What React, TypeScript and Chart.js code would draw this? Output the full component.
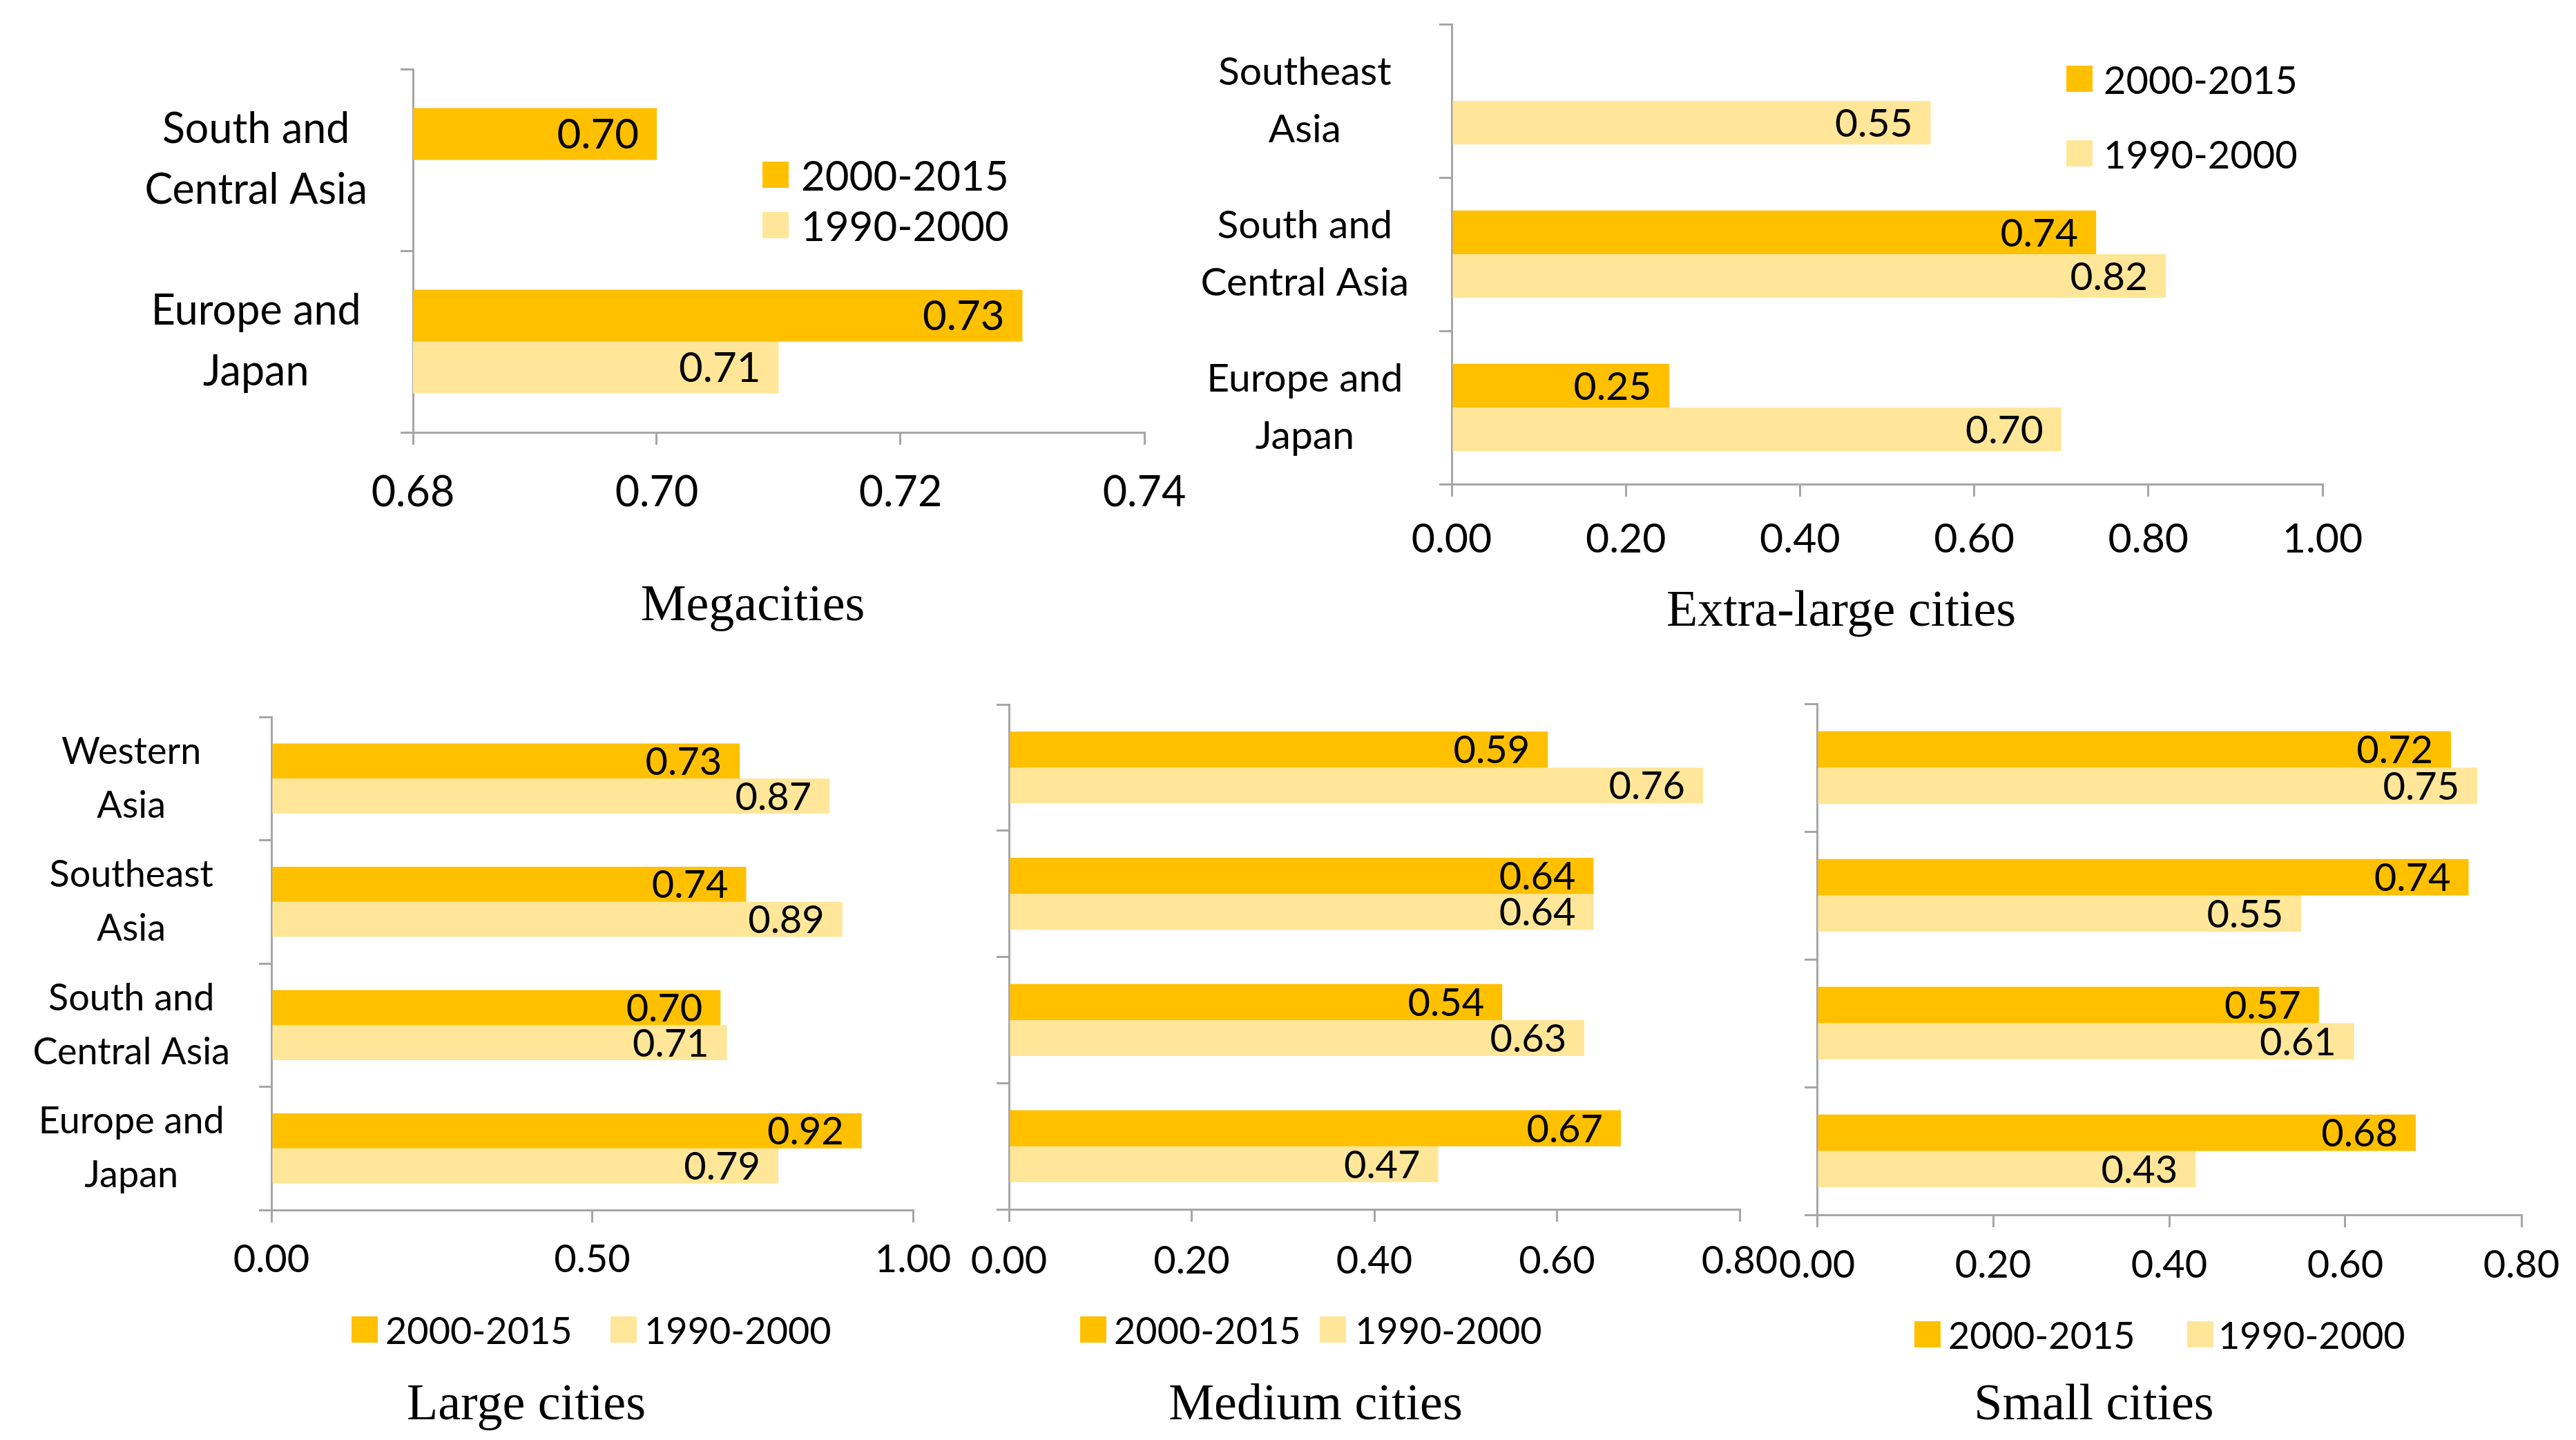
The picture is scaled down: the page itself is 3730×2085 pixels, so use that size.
import React, { useEffect, useRef } from "react";
import { Chart, registerables } from "chart.js";

Chart.register(...registerables);

// ---------- data ----------
const SERIES_NEW = "2000-2015";
const SERIES_OLD = "1990-2000";

const megaCategories = [["South and", "Central Asia"], ["Europe and", "Japan"]];
const mega2000 = [0.70, 0.73];
const mega1990 = [null, 0.71];
const megaTicks = [0.68, 0.70, 0.72, 0.74];

const xlCategories = [["Southeast", "Asia"], ["South and", "Central Asia"], ["Europe and", "Japan"]];
const xl2000 = [null, 0.74, 0.25];
const xl1990 = [0.55, 0.82, 0.70];
const xlTicks = [0.0, 0.2, 0.4, 0.6, 0.8, 1.0];

const fourCategories = [["Western", "Asia"], ["Southeast", "Asia"], ["South and", "Central Asia"], ["Europe and", "Japan"]];
const large2000 = [0.73, 0.74, 0.70, 0.92];
const large1990 = [0.87, 0.89, 0.71, 0.79];
const largeTicks = [0.0, 0.5, 1.0];

const medium2000 = [0.59, 0.64, 0.54, 0.67];
const medium1990 = [0.76, 0.64, 0.63, 0.47];
const mediumTicks = [0.0, 0.2, 0.4, 0.6, 0.8];

const small2000 = [0.72, 0.74, 0.57, 0.68];
const small1990 = [0.75, 0.55, 0.61, 0.43];
const smallTicks = [0.0, 0.2, 0.4, 0.6, 0.8];

const titles = ["Megacities", "Extra-large cities", "Large cities", "Medium cities", "Small cities"];

// ---------- style ----------
const COLOR_NEW = "#FFC000";
const COLOR_OLD = "#FFE699";
const AXIS = "#A6A6A6";
const SANS = "Lato, 'Open Sans', sans-serif";
const SERIF = "'Liberation Serif', 'Times New Roman', serif";

type PanelCfg = {
  title: string;
  canvas: [number, number, number, number];
  area: [number, number, number, number];
  categories: string[][];
  showCategories: boolean;
  newVals: (number | null)[];
  oldVals: (number | null)[];
  ticks: number[];
  xTickPad: number;
  yLabelPad: number;
  catFont: number;
  tickFont: number;
  valueFont: number;
  legend: { sq: number; text: number }[];
  legendY: number[];
  legendFont: number;
  titlePos: [number, number];
};

const panels: PanelCfg[] = [
  {
    title: titles[0],
    canvas: [0, 0, 1760, 820],
    area: [598, 100, 1657, 626],
    categories: megaCategories,
    showCategories: true,
    newVals: mega2000,
    oldVals: mega1990,
    ticks: megaTicks,
    xTickPad: 33,
    yLabelPad: 48,
    catFont: 61,
    tickFont: 61,
    valueFont: 60,
    legend: [{ sq: 1104, text: 1160 }, { sq: 1104, text: 1160 }],
    legendY: [253, 326],
    legendFont: 60,
    titlePos: [1090, 873],
  },
  {
    title: titles[1],
    canvas: [1690, 0, 2040, 850],
    area: [2102, 35, 3363, 701],
    categories: xlCategories,
    showCategories: true,
    newVals: xl2000,
    oldVals: xl1990,
    ticks: xlTicks,
    xTickPad: 27,
    yLabelPad: 44,
    catFont: 57,
    tickFont: 59,
    valueFont: 57,
    legend: [{ sq: 2992, text: 3046 }, { sq: 2992, text: 3046 }],
    legendY: [114, 222],
    legendFont: 56,
    titlePos: [2666, 881],
  },
  {
    title: titles[2],
    canvas: [0, 960, 1420, 920],
    area: [393, 1038, 1322, 1752],
    categories: fourCategories,
    showCategories: true,
    newVals: large2000,
    oldVals: large1990,
    ticks: largeTicks,
    xTickPad: 20,
    yLabelPad: 42,
    catFont: 54,
    tickFont: 56,
    valueFont: 56,
    legend: [{ sq: 509, text: 558 }, { sq: 884, text: 933 }],
    legendY: [1925, 1925],
    legendFont: 54,
    titlePos: [762, 2030],
  },
  {
    title: titles[3],
    canvas: [1400, 960, 1220, 920],
    area: [1461, 1020, 2519, 1751],
    categories: fourCategories,
    showCategories: false,
    newVals: medium2000,
    oldVals: medium1990,
    ticks: mediumTicks,
    xTickPad: 23,
    yLabelPad: 42,
    catFont: 54,
    tickFont: 56,
    valueFont: 56,
    legend: [{ sq: 1564, text: 1613 }, { sq: 1911, text: 1962 }],
    legendY: [1925, 1925],
    legendFont: 54,
    titlePos: [1905, 2030],
  },
  {
    title: titles[4],
    canvas: [2560, 960, 1170, 920],
    area: [2631, 1019, 3651, 1759],
    categories: fourCategories,
    showCategories: false,
    newVals: small2000,
    oldVals: small1990,
    ticks: smallTicks,
    xTickPad: 21,
    yLabelPad: 42,
    catFont: 54,
    tickFont: 56,
    valueFont: 56,
    legend: [{ sq: 2772, text: 2821 }, { sq: 3167, text: 3212 }],
    legendY: [1932, 1932],
    legendFont: 54,
    titlePos: [3032, 2030],
  },
];

const valueLabels = {
  id: "valueLabels",
  afterDatasetsDraw(chart: any, _args: any, opts: any) {
    const ctx = chart.ctx;
    ctx.save();
    ctx.font = `${opts.size}px ${SANS}`;
    ctx.fillStyle = "#000";
    ctx.textAlign = "right";
    ctx.textBaseline = "middle";
    chart.data.datasets.forEach((ds: any, di: number) => {
      const meta = chart.getDatasetMeta(di);
      meta.data.forEach((el: any, i: number) => {
        const v = ds.data[i];
        if (v === null || v === undefined) return;
        ctx.fillText(Number(v).toFixed(2), el.x - 26, el.y + 2);
      });
    });
    ctx.restore();
  },
};

function Panel({ cfg }: { cfg: PanelCfg }) {
  const ref = useRef<HTMLCanvasElement | null>(null);
  const [cx, cy, cw, ch] = cfg.canvas;
  const [L, T, R, B] = cfg.area;

  useEffect(() => {
    if (!ref.current) return;
    const ticks = cfg.ticks;
    const chart = new Chart(ref.current, {
      type: "bar",
      data: {
        labels: cfg.categories as any,
        datasets: [
          {
            label: SERIES_NEW,
            data: cfg.newVals as any,
            backgroundColor: COLOR_NEW,
            borderWidth: 0,
            categoryPercentage: 0.57,
            barPercentage: 1,
          },
          {
            label: SERIES_OLD,
            data: cfg.oldVals as any,
            backgroundColor: COLOR_OLD,
            borderWidth: 0,
            categoryPercentage: 0.57,
            barPercentage: 1,
          },
        ],
      },
      options: {
        indexAxis: "y",
        responsive: false,
        animation: false,
        devicePixelRatio: 1,
        layout: { padding: { left: 0, top: T - cy, right: cx + cw - R, bottom: 0 } },
        plugins: {
          legend: { display: false },
          tooltip: { enabled: false },
          title: { display: false },
          valueLabels: { size: cfg.valueFont },
        } as any,
        scales: {
          x: {
            type: "linear",
            position: "bottom",
            min: ticks[0],
            max: ticks[ticks.length - 1],
            afterBuildTicks: (s: any) => {
              s.ticks = ticks.map((v) => ({ value: v }));
            },
            afterFit: (s: any) => {
              s.height = cy + ch - B;
              s.paddingLeft = 0;
              s.paddingRight = 0;
            },
            grid: {
              display: true,
              drawOnChartArea: false,
              drawTicks: true,
              tickLength: 18,
              color: AXIS,
              lineWidth: 3,
            },
            border: { display: true, color: AXIS, width: 3 },
            ticks: {
              padding: cfg.xTickPad,
              color: "#000",
              autoSkip: false,
              maxRotation: 0,
              font: { family: SANS, size: cfg.tickFont, lineHeight: 1.2 },
              callback: (v: any) => Number(v).toFixed(2),
            },
          },
          y: {
            type: "category",
            position: "left",
            offset: true,
            afterFit: (s: any) => {
              s.width = L - cx;
              s.paddingTop = 0;
              s.paddingBottom = 0;
            },
            grid: {
              display: true,
              offset: true,
              drawOnChartArea: false,
              drawTicks: true,
              tickLength: 18,
              color: AXIS,
              lineWidth: 3,
            },
            border: { display: true, color: AXIS, width: 3 },
            ticks: {
              display: cfg.showCategories,
              crossAlign: "center",
              padding: cfg.yLabelPad,
              color: "#000",
              autoSkip: false,
              font: { family: SANS, size: cfg.catFont, lineHeight: 1.45 },
            },
          },
        },
      } as any,
      plugins: [valueLabels],
    });
    return () => chart.destroy();
  }, []);

  return (
    <>
      <canvas
        ref={ref}
        width={cw}
        height={ch}
        style={{ position: "absolute", left: cx, top: cy, width: cw, height: ch }}
      />
      {[SERIES_NEW, SERIES_OLD].map((name, i) => (
        <div
          key={name}
          style={{
            position: "absolute",
            left: cfg.legend[i].sq,
            top: cfg.legendY[i] - 40,
            height: 80,
            display: "flex",
            alignItems: "center",
            fontFamily: SANS,
            fontSize: cfg.legendFont,
            color: "#000",
            whiteSpace: "nowrap",
          }}
        >
          <span
            style={{
              display: "inline-block",
              width: 38,
              height: 38,
              background: i === 0 ? COLOR_NEW : COLOR_OLD,
              marginRight: cfg.legend[i].text - cfg.legend[i].sq - 38,
            }}
          />
          <span>{name}</span>
        </div>
      ))}
      <div
        style={{
          position: "absolute",
          left: cfg.titlePos[0] - 600,
          width: 1200,
          top: cfg.titlePos[1] - 45,
          height: 90,
          lineHeight: "90px",
          textAlign: "center",
          fontFamily: SERIF,
          fontSize: 74,
          color: "#000",
        }}
      >
        {cfg.title}
      </div>
    </>
  );
}

export default function App() {
  useEffect(() => {
    document.body.style.margin = "0";
  }, []);
  return (
    <div
      style={{
        position: "fixed",
        left: 0,
        top: 0,
        width: 3730,
        height: 2085,
        background: "#fff",
        overflow: "hidden",
      }}
    >
      {panels.map((p) => (
        <Panel key={p.title} cfg={p} />
      ))}
    </div>
  );
}
